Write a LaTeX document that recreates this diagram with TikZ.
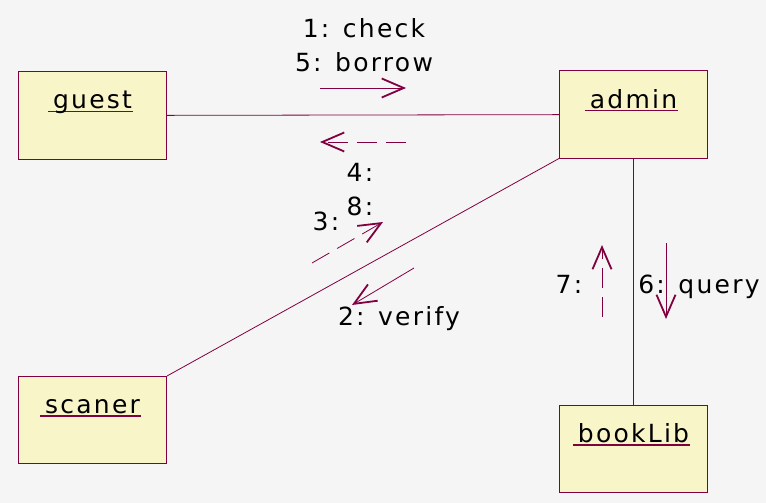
\documentclass[tikz,border=0pt]{standalone}
\usepackage{fontspec}
\setmainfont{DejaVu Sans}[LetterSpace=9]
\usepackage{tikz}
\usetikzlibrary{arrows.meta}
\usepackage{xcolor}

\definecolor{umlline}{RGB}{128,0,64}
\definecolor{umlfill}{RGB}{248,245,200}
\definecolor{umlback}{RGB}{245,245,245}

% podkreslona nazwa obiektu
\newcommand{\objname}[1]{\setbox0\hbox{#1}\rlap{\hspace{-5pt}\textcolor{umlline}{\rule[-3pt]{\dimexpr\wd0+6pt\relax}{1.2pt}}}\box0}

\begin{document}
\begin{tikzpicture}[
  x=1pt, y=-1pt,
  object/.style={draw=umlline, fill=umlfill, line width=1pt, minimum width=148pt, minimum height=87pt,
    inner sep=0pt, text height=37pt, text depth=50pt, font=\fontsize{25}{30}\selectfont},
  link/.style={draw=umlline, line width=0.8pt},
  msg/.style={umlline, line width=0.8pt, -{Straight Barb[length=22pt, width=19pt, line width=1.8pt]}},
  reply/.style={msg, dash pattern=on 20pt off 9pt},
  msglabel/.style={font=\fontsize{25}{34}\selectfont, align=center, inner sep=0pt}
]

% --- Tlo i rozmiar rysunku ---
\fill[umlback] (0,0) rectangle (766,503);

% --- Obiekty ---
\node[object] (guest)   at (92.5,115.5) {\objname{guest}};
\node[object] (admin)   at (633.5,114.5) {\objname{admin}};
\node[object] (scaner)  at (92.5,420) {\objname{scaner}};
\node[object] (bookLib) at (633.5,449) {\objname{bookLib}};

% --- Powiazania ---
\draw[link] (guest) -- (admin);
\draw[link] (scaner.north east) -- (admin.south west);
\draw[link] (admin) -- (bookLib);

% --- guest <-> admin ---
\coordinate (m1s) at (320,88);  \coordinate (m1e) at (406,88);
\coordinate (r4s) at (406,142); \coordinate (r4e) at (320,142);
\draw[msg] (m1s) -- (m1e);
\draw[reply] (r4s) -- (r4e);
\node[msglabel] (m1) at (364,45) {1: check\\5: borrow};
\node[msglabel] (r4) at (360,190) {4:\\8:};

% --- scaner <-> admin ---
\coordinate (r3s) at (312,263); \coordinate (r3e) at (383,222);
\coordinate (m2s) at (414,268); \coordinate (m2e) at (352,305);
\draw[reply] (r3s) -- (r3e);
\draw[msg] (m2s) -- (m2e);
\node[msglabel, anchor=base] (r3) at (326,230) {3:};
\node[msglabel, anchor=base] (m2) at (399,325) {2: verify};

% --- admin <-> bookLib ---
\coordinate (r7s) at (602,317); \coordinate (r7e) at (602,245);
\coordinate (m6s) at (666,243); \coordinate (m6e) at (666,319);
\draw[reply] (r7s) -- (r7e);
\draw[msg] (m6s) -- (m6e);
\node[msglabel, anchor=base] (r7) at (569,293) {7:};
\node[msglabel, anchor=base] (m6) at (699,293) {6: query};

\end{tikzpicture}
\end{document}
